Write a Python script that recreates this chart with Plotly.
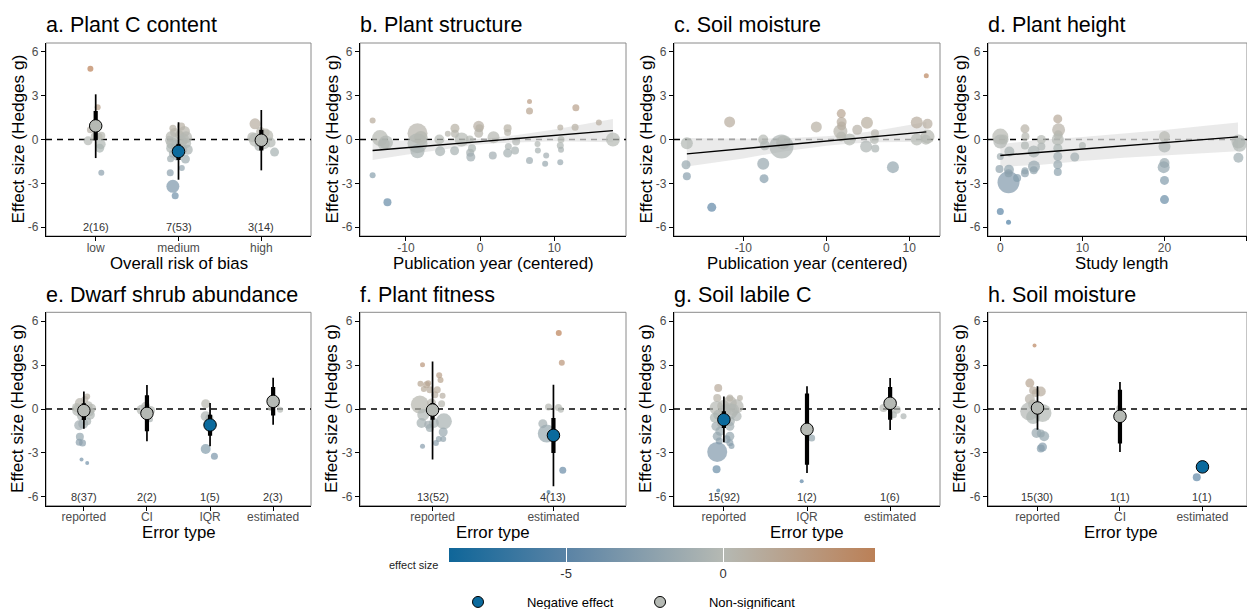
import plotly.graph_objects as go

W, H = 1247, 609
FONT = "Liberation Sans, Arial, Helvetica, sans-serif"

# ---------------- colour scale for effect sizes ----------------
ES_MIN, ES_MAX = -8.73, 4.84
ES_STOPS = [-8.73, -5.0, 0.0, 4.84]
ES_COLORS = ["#0f6699", "#5a83a5", "#b5b9b3", "#bb8057"]
BLUE = "#0b6a9d"
GREY = "#b5b9b4"

TITLES = ["a. Plant C content", "b. Plant structure", "c. Soil moisture", "d. Plant height",
          "e. Dwarf shrub abundance", "f. Plant fitness", "g. Soil labile C", "h. Soil moisture"]
XTITLES = ["Overall risk of bias", "Publication year (centered)", "Publication year (centered)",
           "Study length", "Error type", "Error type", "Error type", "Error type"]
YTITLE = "Effect size (Hedges g)"
Y_TICKS = [-6, -3, 0, 3, 6]
Y_TICKTEXT = ["-6", "-3", "0", "3", "6"]

# ---------------- a. Plant C content ----------------
A_CATS = ["low", "medium", "high"]
A_COUNTS = ["2(16)", "7(53)", "3(14)"]
A_MEAN = [0.93, -0.82, -0.05]
A_CI_LO = [-0.05, -1.4, -0.75]
A_CI_HI = [1.95, -0.3, 0.66]
A_PI_LO = [-1.27, -2.75, -2.11]
A_PI_HI = [3.09, 1.18, 2.02]
A_SIG = [False, True, False]
A_PX = [0.936, 1.024, 0.936, 0.988, 0.908, 1.04, 1.068, 1.06, 1.048, 1.068,
        1.932, 2.032, 1.952, 2.072, 1.912, 2.012, 2.092, 1.924, 2.032, 2.092, 1.912, 2.052,
        2.112, 1.932, 1.904, 2.084, 1.98, 2.04, 1.9, 1.932, 1.96, 1.972, 2.06, 1.892,
        2.924, 2.992, 3.052, 3.072, 2.892, 2.932, 3.032, 3.112, 2.972, 3.16]
A_PY = [4.84, 2.2, 0.66, 0.2, -0.09, 0.2, 0.25, -0.32, -0.59, -2.27,
        0.77, 0.89, 0.48, 0.55, 0.2, 0.32, 0.16, -0.25, -0.14, -0.25, -0.59, -0.7,
        -0.7, -0.98, -1.32, -1.34, -1.16, -1.95, -2.27, -3.2, -3.84, -0.4, 0.05, -0.05,
        1.07, 0.55, 0.48, 0.25, 0.16, -0.02, -0.25, -0.2, -0.48, -0.86]
A_PS = [6, 6, 7, 8, 9, 7, 8, 10, 9, 6,
        7, 8, 9, 11, 11, 9, 12, 12, 12, 10, 10, 9, 10, 8, 7, 9, 8, 6, 7, 13, 7, 11, 11, 9,
        11, 9, 8, 12, 10, 14, 12, 10, 9, 9]

# ---------------- b. Plant structure ----------------
B_XTICKS = [-10, 0, 10]
B_PX = [-14.5, -14.5, -12.5, -13.5, -12.7, -13.0, -8.45, -8.45, -8.45, -8.0, -5.5, -5.4,
        -4.36, -3.4, -3.4, -3.45, -2.5, -1.4, -1.35, -1.26, -1.1, -0.2, -0.1, -0.2, 1.8, 1.7,
        3.7, 3.7, 3.8, 3.7, 4.7, 4.85, 6.65, 6.65, 6.65, 7.73, 7.78, 8.76, 8.9, 10.8, 10.8,
        10.9, 10.8, 10.9, 12.9, 12.8, 16.0, 17.9]
B_PY = [1.3, -2.45, -4.3, 0.1, -0.2, -0.3, 0.43, -0.25, -0.8, 0.1, 0.0, -0.8,
        0.4, 0.77, 0.4, -0.77, 0.0, 0.0, -0.9, -1.2, -0.6, 0.9, 0.77, 0.43, 0.16, -1.1,
        0.77, 0.48, -0.48, -0.93, -0.75, -0.14, 2.6, 1.95, -1.43, -0.3, -0.75, -1.66, -1.1,
        0.82, -0.41, -0.7, -1.55, 0.0, 2.18, 0.84, 1.16, 0.0]
B_PS = [6, 6, 8, 16, 14, 12, 20, 20, 14, 14, 10, 10, 6, 9, 8, 9, 14, 8, 8, 9, 8, 11, 8, 9,
        12, 8, 8, 7, 7, 9, 8, 8, 5, 7, 7, 6, 6, 6, 6, 6, 7, 6, 6, 7, 7, 7, 6, 14]
B_FIT_X = [-14.5, 17.9]
B_FIT_Y = [-0.75, 0.61]
B_BAND_X = [-14.5, -10, -5, -0.5, 2, 5, 10, 17.9]
B_BAND_HI = [-0.10, -0.08, -0.03, 0.04, 0.13, 0.31, 0.68, 1.41]
B_BAND_LO = [-1.40, -1.04, -0.67, -0.36, -0.25, -0.17, -0.12, -0.19]

# ---------------- c. Soil moisture ----------------
C_XTICKS = [-10, 0, 10]
C_PX = [-16.8, -16.9, -16.8, -13.8, -11.65, -7.6, -7.4, -7.6, -7.5, -5.4, -5.2, -1.2, 1.7,
        1.8, 1.85, 1.85, 1.8, 2.8, 3.73, 4.9, 4.8, 5.86, 5.9, 5.8, 8.03, 10.9, 10.9, 12.05,
        12.2, 12.2, 12.0]
C_PY = [-0.25, -1.73, -2.52, -4.64, 1.2, 0.0, -0.4, -1.66, -2.68, -0.48, -0.2, 0.86, 0.55,
        1.77, 1.2, 0.93, 0.2, 0.0, 0.66, 1.14, -0.48, 0.43, -0.61, 0.0, -1.89, 1.16, 0.0, 4.36,
        1.07, 0.2, -0.02]
C_PS = [12, 9, 8, 9, 11, 10, 10, 12, 9, 24, 14, 11, 14, 9, 10, 9, 10, 12, 10, 12, 12, 8, 8,
        9, 12, 12, 12, 5, 10, 14, 10]
C_FIT_X = [-16.8, 12.05]
C_FIT_Y = [-0.98, 0.52]
C_BAND_X = [-16.8, -10, -5, 0, 3, 6, 12.05]
C_BAND_HI = [0.10, 0.05, 0.08, 0.22, 0.38, 0.60, 1.20]
C_BAND_LO = [-1.85, -1.30, -0.80, -0.42, -0.27, -0.18, -0.16]

# ---------------- d. Plant height ----------------
D_XTICKS = [0, 10, 20, 30]
D_PX = [0, 0, 0.4, 0, -0.1, 0, 1, 1, 1.05, 1.1, 1, 2.05, 3.0, 3.06, 3.0, 3.0, 3.0, 4.07,
        4.1, 4.07, 5.0, 5.0, 7.0, 7.1, 7.05, 7.0, 7.0, 7.0, 7.0, 7.0, 9.07, 10.0, 20, 20, 20,
        19.9, 20, 20, 29.0, 29.15, 29.0]
D_PY = [0.2, -0.14, 0.0, -1.16, -2.02, -4.93, -5.66, -2.93, -2.07, -0.82, -2.3, -2.64, 0.73,
        0.2, -0.41, -2.3, -2.14, -0.82, -1.84, -2.1, 0.0, -0.48, 1.41, 0.66, 0.32, 0.0, -0.59,
        -1.16, -1.73, -2.23, -1.2, -0.41, 0.2, -0.48, -1.61, -1.89, -2.8, -4.11, -0.14,
        -0.36, -1.25]
D_PS = [16, 14, 10, 7, 8, 7, 5, 22, 10, 10, 8, 8, 9, 8, 8, 8, 7, 12, 12, 8, 9, 8, 9, 13, 9,
        12, 9, 9, 9, 8, 9, 7, 11, 12, 10, 12, 9, 9, 14, 14, 10]
D_FIT_X = [0, 28.95]
D_FIT_Y = [-1.09, 0.18]
D_BAND_X = [0, 5, 10, 15, 20, 25, 28.95]
D_BAND_HI = [-0.31, -0.02, 0.17, 0.39, 0.65, 0.94, 1.16]
D_BAND_LO = [-1.87, -1.72, -1.47, -1.25, -1.07, -0.92, -0.80]

# ---------------- e. Dwarf shrub abundance ----------------
E_CATS = ["reported", "CI", "IQR", "estimated"]
E_COUNTS = ["8(37)", "2(2)", "1(5)", "2(3)"]
E_MEAN = [-0.11, -0.3, -1.09, 0.52]
E_CI_LO = [-0.75, -1.52, -1.82, -0.45]
E_CI_HI = [0.4, 0.93, -0.39, 1.5]
E_PI_LO = [-1.34, -2.2, -2.55, -1.07]
E_PI_HI = [1.2, 1.64, 0.41, 2.14]
E_SIG = [False, False, True, False]
E_PX = [1.053, 1.016, 0.937, 1.069, 0.91, 1.085, 1.095, 0.963, 0.99, 0.926, 1.053, 0.937,
        0.926, 0.979, 0.963, 1.053, 0.884, 1.122, 1.979, 1.915, 2.058, 2.048, 2.931, 2.931,
        2.989, 2.931, 3.069, 4.058, 3.963, 4.111]
E_PY = [0.86, 0.64, 0.41, 0.23, -0.09, -0.16, -0.39, -0.5, -1.0, -1.11, -0.84, -1.89, -2.27,
        -2.32, -3.45, -3.68, 0.1, 0.05, 0.18, -0.05, -0.1, -0.7, 0.36, -0.5, -0.61, -2.73,
        -3.23, 0.3, 0.07, -0.05]
E_PS = [6, 7, 10, 9, 12, 10, 10, 9, 10, 10, 8, 8, 7, 7, 4, 4, 9, 9, 9, 10, 9, 6, 9, 10, 8,
        10, 7, 6, 6, 6]

# ---------------- f. Plant fitness ----------------
F_CATS = ["reported", "estimated"]
F_COUNTS = ["13(52)", "4(13)"]
F_MEAN = [-0.07, -1.8]
F_CI_LO = [-0.73, -3.0]
F_CI_HI = [0.41, -0.61]
F_PI_LO = [-3.45, -5.27]
F_PI_HI = [3.25, 1.66]
F_SIG = [False, True]
F_PX = [0.917, 0.9, 0.95, 0.964, 1.055, 1.066, 1.019, 1.039, 0.978, 0.928, 1.083, 0.895,
        0.992, 1.075, 0.923, 1.094, 0.909, 0.964, 1.011, 0.978, 1.088, 1.052, 1.088, 1.028,
        0.917, 2.044, 2.069, 1.959, 2.041, 2.061, 1.912, 1.945, 2.077, 1.959]
F_PY = [3.02, 1.73, 1.66, 1.75, 2.3, 1.98, 0.98, 1.32, 1.32, 1.36, 0.91, 0.3, 0.41, 0.36,
        -0.39, -0.84, -0.95, -1.07, -0.95, -1.3, -1.57, -2.05, -2.05, -2.32, -2.55, 5.18,
        3.16, 0.14, 0.11, -0.05, -1.0, -1.68, -4.18, -5.66]
F_PS = [5, 6, 7, 6, 6, 6, 7, 7, 7, 6, 6, 18, 9, 7, 12, 16, 10, 8, 10, 8, 9, 6, 6, 6, 5, 6,
        6, 7, 7, 6, 9, 18, 7, 4]

# ---------------- g. Soil labile C ----------------
G_CATS = ["reported", "IQR", "estimated"]
G_COUNTS = ["15(92)", "1(2)", "1(6)"]
G_MEAN = [-0.73, -1.39, 0.39]
G_CI_LO = [-1.3, -3.8, -0.73]
G_CI_HI = [-0.16, 1.05, 1.5]
G_PI_LO = [-2.27, -4.36, -1.43]
G_PI_HI = [0.86, 1.55, 2.11]
G_SIG = [True, False, False]
G_PX = [0.932, 0.92, 1.072, 1.193, 1.072, 1.153, 0.912, 1.072, 0.932, 1.153, 1.072, 0.904,
        1.072, 0.952, 0.92, 1.072, 1.032, 0.944, 1.072, 1.092, 0.92, 0.912, 0.932, 0.992,
        1.012, 1.112, 0.892, 0.972, 2.056, 1.936, 2.92, 3.08, 3.04, 3.161]
G_PY = [1.43, 0.75, 0.75, 0.75, 0.41, 0.18, 0.07, -0.16, -0.39, -0.5, -0.84, -1.18, -1.18,
        -1.52, -1.86, -1.86, -2.07, -2.18, -2.3, -2.52, -2.93, -4.11, -5.57, 0.2, -0.1,
        -0.05, -0.6, -1.0, -1.98, -4.93, 0.07, -0.05, -0.39, -0.5]
G_PS = [8, 8, 7, 6, 14, 14, 14, 16, 10, 10, 10, 9, 9, 9, 9, 9, 8, 7, 7, 6, 20, 8, 4, 12, 12,
        12, 10, 9, 7, 4, 8, 8, 7, 6]

# ---------------- h. Soil moisture ----------------
H_CATS = ["reported", "CI", "estimated"]
H_COUNTS = ["15(30)", "1(1)", "1(1)"]
H_MEAN = [0.07, -0.5, -3.95]
H_CI_LO = [-0.3, -2.36, None]
H_CI_HI = [0.35, 1.32, None]
H_PI_LO = [-1.41, -2.93, None]
H_PI_HI = [1.55, 1.84, None]
H_SIG = [False, False, True]
H_PX = [0.964, 0.907, 0.947, 1.04, 0.98, 0.907, 0.947, 0.899, 1.061, 0.947, 0.988, 1.081,
        1.04, 1.061, 1.04, 1.992, 2.931]
H_PY = [4.34, 1.77, 1.27, 1.2, 1.09, 0.68, 0.3, -0.16, -0.27, -0.55, -1.64, -1.86, -1.68,
        -2.59, -2.7, 0.07, -4.66]
H_PS = [4, 9, 8, 10, 8, 10, 10, 18, 18, 14, 10, 10, 8, 9, 8, 6, 8]

LEGEND_NAMES = ["Negative effect", "Non-significant"]

# ---------------- layout geometry (pixels) ----------------
COL_X = [(46, 311), (360, 626), (674, 940), (988, 1247)]
ROW_Y = [(43, 236), (312.3, 505.7)]
XTITLE_Y = [263, 532]
TITLE_Y = [25, 295]
X_RANGES = [(0.4, 3.6), (-16.2, 19.66), (-18.35, 13.7), (-1.5, 30.05),
            (0.4, 4.6), (0.4, 2.6), (0.4, 3.6), (0.4, 3.54)]
Y_RANGE = (-6.6, 6.6)

fig = go.Figure()
annotations = []
shapes = []
layout = {}


def sfx(i):
    return "" if i == 1 else str(i)


def add_points(i, xs, ys, ss):
    fig.add_trace(go.Scatter(
        x=xs, y=ys, mode="markers", xaxis="x" + sfx(i), yaxis="y" + sfx(i),
        marker=dict(size=ss, color=ys, coloraxis="coloraxis", opacity=0.7,
                    line=dict(width=0)),
        showlegend=False, hoverinfo="skip"))


def add_bars(i, pos, lo, hi, width):
    xs, ys = [], []
    for p, l, h in zip(pos, lo, hi):
        if l is None or h is None:
            continue
        xs += [p, p, None]
        ys += [l, h, None]
    if xs:
        fig.add_trace(go.Scatter(x=xs, y=ys, mode="lines", xaxis="x" + sfx(i),
                                 yaxis="y" + sfx(i), line=dict(color="black", width=width),
                                 showlegend=False, hoverinfo="skip"))


def categorical(i, cats, counts, mean, ci_lo, ci_hi, pi_lo, pi_hi, sig, px, py, ps):
    pos = list(range(1, len(cats) + 1))
    add_points(i, px, py, ps)
    add_bars(i, pos, pi_lo, pi_hi, 1.7)
    add_bars(i, pos, ci_lo, ci_hi, 4.2)
    fig.add_trace(go.Scatter(
        x=pos, y=mean, mode="markers", xaxis="x" + sfx(i), yaxis="y" + sfx(i),
        marker=dict(size=12.5, color=[BLUE if s else GREY for s in sig],
                    line=dict(color="black", width=1)),
        showlegend=False, hoverinfo="skip"))
    for p, c in zip(pos, counts):
        annotations.append(dict(x=p, y=-6, xref="x" + sfx(i), yref="y" + sfx(i), text=c,
                                showarrow=False, font=dict(size=11, color="#333333"),
                                yanchor="middle"))
    return pos, cats


def continuous(i, px, py, ps, fx, fy, bx, blo, bhi, ticks):
    fig.add_trace(go.Scatter(
        x=list(bx) + list(bx)[::-1], y=list(bhi) + list(blo)[::-1], mode="lines",
        fill="toself", fillcolor="rgba(226,226,226,0.72)", line=dict(width=0),
        xaxis="x" + sfx(i), yaxis="y" + sfx(i), showlegend=False, hoverinfo="skip"))
    add_points(i, px, py, ps)
    fig.add_trace(go.Scatter(x=fx, y=fy, mode="lines", xaxis="x" + sfx(i),
                             yaxis="y" + sfx(i), line=dict(color="black", width=1.4),
                             showlegend=False, hoverinfo="skip"))
    return ticks, [str(t) for t in ticks]


tick_info = {}
tick_info[1] = categorical(1, A_CATS, A_COUNTS, A_MEAN, A_CI_LO, A_CI_HI, A_PI_LO, A_PI_HI,
                           A_SIG, A_PX, A_PY, A_PS)
tick_info[2] = continuous(2, B_PX, B_PY, B_PS, B_FIT_X, B_FIT_Y, B_BAND_X, B_BAND_LO,
                          B_BAND_HI, B_XTICKS)
tick_info[3] = continuous(3, C_PX, C_PY, C_PS, C_FIT_X, C_FIT_Y, C_BAND_X, C_BAND_LO,
                          C_BAND_HI, C_XTICKS)
tick_info[4] = continuous(4, D_PX, D_PY, D_PS, D_FIT_X, D_FIT_Y, D_BAND_X, D_BAND_LO,
                          D_BAND_HI, D_XTICKS)
tick_info[5] = categorical(5, E_CATS, E_COUNTS, E_MEAN, E_CI_LO, E_CI_HI, E_PI_LO, E_PI_HI,
                           E_SIG, E_PX, E_PY, E_PS)
tick_info[6] = categorical(6, F_CATS, F_COUNTS, F_MEAN, F_CI_LO, F_CI_HI, F_PI_LO, F_PI_HI,
                           F_SIG, F_PX, F_PY, F_PS)
tick_info[7] = categorical(7, G_CATS, G_COUNTS, G_MEAN, G_CI_LO, G_CI_HI, G_PI_LO, G_PI_HI,
                           G_SIG, G_PX, G_PY, G_PS)
tick_info[8] = categorical(8, H_CATS, H_COUNTS, H_MEAN, H_CI_LO, H_CI_HI, H_PI_LO, H_PI_HI,
                           H_SIG, H_PX, H_PY, H_PS)

# legend entries (nbsp padding mimics the wide key-label spacing of the reference)
NB = "\u00a0"
LEGEND_LABELS = [NB * 8 + LEGEND_NAMES[0] + NB * 6, NB * 8 + LEGEND_NAMES[1]]
for name, col in zip(LEGEND_LABELS, [BLUE, GREY]):
    fig.add_trace(go.Scatter(x=[None], y=[None], mode="markers", name=name,
                             marker=dict(size=11, color=col, line=dict(color="black", width=1)),
                             showlegend=True))

for i in range(1, 9):
    r = 0 if i <= 4 else 1
    c = (i - 1) % 4
    x0, x1 = COL_X[c]
    y0, y1 = ROW_Y[r]
    tv, tt = tick_info[i]
    layout["xaxis" + sfx(i)] = dict(
        domain=[x0 / W, min(x1 / W, 1.0)], range=list(X_RANGES[i - 1]), anchor="y" + sfx(i),
        showline=True, linecolor="black", linewidth=1.2, ticks="outside", ticklen=4,
        tickwidth=1, tickcolor="black", tickvals=tv, ticktext=tt, showgrid=False,
        zeroline=False, automargin=False, ticklabelstandoff=-4,
        tickfont=dict(size=12, color="#4d4d4d"))
    layout["yaxis" + sfx(i)] = dict(
        domain=[1 - y1 / H, 1 - y0 / H], range=list(Y_RANGE), anchor="x" + sfx(i),
        showline=True, linecolor="black", linewidth=1.2, ticks="outside", ticklen=4,
        tickwidth=1, tickcolor="black", tickvals=Y_TICKS, ticktext=Y_TICKTEXT,
        showgrid=False, zeroline=False, automargin=False,
        tickfont=dict(size=12, color="#4d4d4d"))
    # grey panel border
    shapes.append(dict(type="rect", xref="x" + sfx(i) + " domain", yref="y" + sfx(i) + " domain",
                       x0=0, x1=1, y0=0, y1=1, line=dict(color="#8a8a8a", width=1),
                       layer="below"))
    # dashed zero line
    shapes.append(dict(type="line", xref="x" + sfx(i) + " domain", yref="y" + sfx(i),
                       x0=0, x1=1, y0=0, y1=0,
                       line=dict(color="black", width=1.3, dash="6px,5px"), layer="below"))
    # panel title
    annotations.append(dict(x=(x0 - 2) / W, y=1 - TITLE_Y[r] / H, xref="paper", yref="paper",
                            text=TITLES[i - 1], showarrow=False, xanchor="left",
                            yanchor="middle", font=dict(size=21.5, color="black")))
    # y title
    annotations.append(dict(x=(x0 - 29) / W, y=1 - ((y0 + y1) / 2) / H, xref="paper",
                            yref="paper", text=YTITLE, showarrow=False, textangle=-90,
                            xanchor="center", yanchor="middle",
                            font=dict(size=17.2, color="black")))
    # x title
    xc = (x0 + (x1 if i not in (4, 8) else 1254)) / 2
    annotations.append(dict(x=xc / W, y=1 - XTITLE_Y[r] / H, xref="paper", yref="paper",
                            text=XTITLES[i - 1], showarrow=False, xanchor="center",
                            yanchor="middle", font=dict(size=16.8, color="black")))

# colour bar label
annotations.append(dict(x=440 / W, y=1 - 565 / H, xref="paper", yref="paper",
                        text="effect size", showarrow=False, xanchor="right",
                        yanchor="middle", font=dict(size=11, color="#222222")))

span = ES_MAX - ES_MIN
colorscale = [[(v - ES_MIN) / span, col] for v, col in zip(ES_STOPS, ES_COLORS)]

fig.update_layout(
    **layout,
    width=W, height=H,
    margin=dict(l=0, r=0, t=0, b=0, autoexpand=False),
    template="none",
    paper_bgcolor="white", plot_bgcolor="white",
    font=dict(family=FONT, color="black"),
    annotations=annotations, shapes=shapes,
    coloraxis=dict(
        colorscale=colorscale, cmin=ES_MIN, cmax=ES_MAX,
        colorbar=dict(orientation="h", x=662 / W, xanchor="center", y=1 - 548.3 / H,
                      yanchor="top", len=426, lenmode="pixels", thickness=14.4,
                      thicknessmode="pixels", xpad=0, ypad=0, outlinewidth=0,
                      tickvals=[-5, 0], ticktext=["-5", "0"], ticks="inside", ticklen=14,
                      tickcolor="white", tickwidth=1,
                      tickfont=dict(size=13, color="#333333"), title=dict(text=""))),
    legend=dict(orientation="h", x=458 / W, xanchor="left", y=1 - 602 / H,
                yanchor="middle", font=dict(size=13, color="black"),
                bgcolor="rgba(0,0,0,0)", itemsizing="trace"),
    showlegend=True,
)

fig.write_html("out.html", config={"displayModeBar": False},
               post_script="document.body.style.margin='0px';document.body.style.overflow='hidden';")
